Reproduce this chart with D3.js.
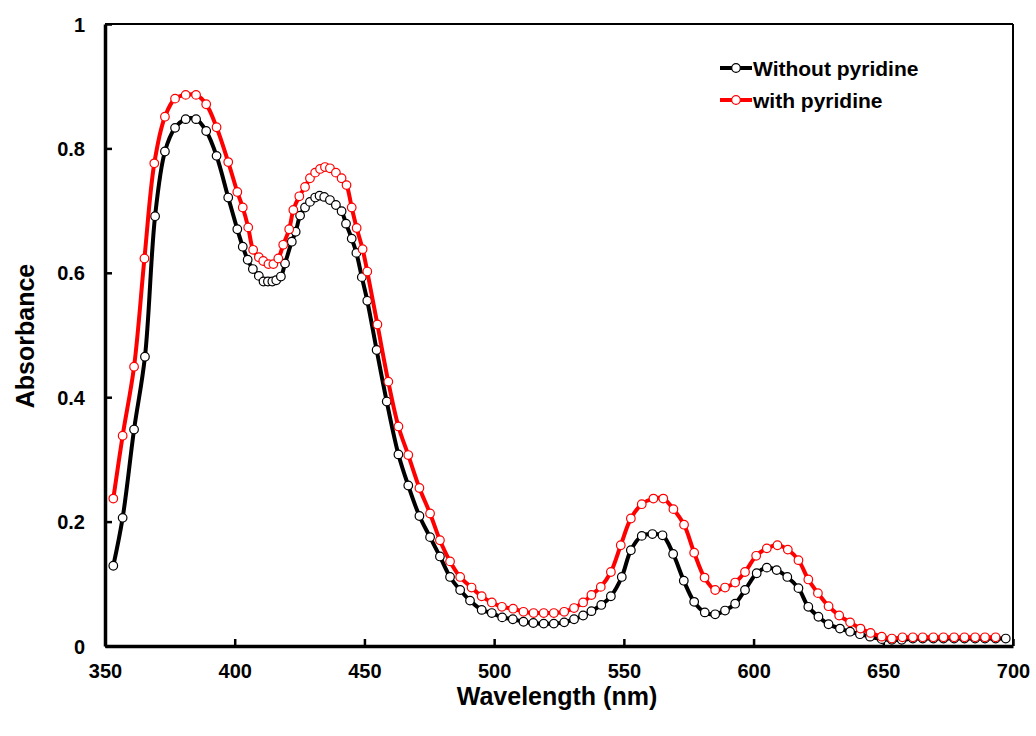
<!DOCTYPE html>
<html>
<head>
<meta charset="utf-8">
<script src="https://cdn.jsdelivr.net/npm/d3@7"></script>
<style>
    body { margin: 0; background: #fff; }
    svg text { font-family: "Liberation Sans", Arial, sans-serif; font-weight: bold; fill: #000; }
</style>
</head>
<body>
<svg id="chart" width="1036" height="736"></svg>
<script>
// wavelength (nm) / absorbance
const nmWithout = [353.2, 356.8, 361.2, 365.4, 369.3, 373.1, 377, 381.1, 385.1, 389, 393, 397.5, 401, 403.1, 405, 407,
    409.3, 411.1, 412.8, 414.5, 416, 417.8, 419.4, 422, 423.5, 425.2, 427.1, 429, 431, 432.7, 434.5, 436.7, 439, 441.2,
    442.9, 445.1, 446.9, 449, 451.1, 454.7, 458.6, 463.1, 466.9, 471.2, 475.3, 479.1, 483, 486.9, 490.7, 495.2, 499.1,
    503.1, 507.2, 511.3, 515.1, 519.1, 523, 527, 530.8, 534.3, 537.5, 541.3, 545, 549.2, 552.7, 556.9, 561, 564.9, 569,
    573.1, 577.1, 581.2, 585.2, 589, 592.9, 596.7, 601.2, 605.1, 608.9, 613, 617.3, 621.1, 625, 628.9, 633.3, 637.2, 641,
    644.9, 649.4, 653.3, 657.1, 661.4, 665.2, 669.3, 673.2, 677.3, 681.3, 685.4, 689.2, 693.3, 697.2];
const absWithout = [0.129, 0.206, 0.348, 0.465, 0.691, 0.795, 0.833, 0.847, 0.847, 0.828, 0.788, 0.721, 0.670, 0.642, 0.621, 0.606,
    0.595, 0.586, 0.586, 0.586, 0.588, 0.594, 0.615, 0.650, 0.666, 0.692, 0.705, 0.714, 0.721, 0.724, 0.722, 0.717, 0.709, 0.699,
    0.679, 0.655, 0.632, 0.593, 0.555, 0.476, 0.393, 0.308, 0.258, 0.209, 0.175, 0.144, 0.111, 0.090, 0.073, 0.058, 0.053,
    0.046, 0.043, 0.039, 0.037, 0.036, 0.036, 0.038, 0.043, 0.049, 0.056, 0.066, 0.080, 0.111, 0.154, 0.177, 0.180, 0.178, 0.148,
    0.105, 0.071, 0.054, 0.051, 0.057, 0.068, 0.090, 0.117, 0.126, 0.122, 0.111, 0.093, 0.063, 0.047, 0.035, 0.028, 0.023, 0.019,
    0.015, 0.011, 0.010, 0.010, 0.012, 0.012, 0.012, 0.012, 0.012, 0.012, 0.012, 0.012, 0.012, 0.012];

const nmWith = [353.2, 356.8, 361.2, 365.2, 369, 373.1, 377, 381.1, 385.1, 389, 393, 397.5, 401, 403.1, 405.2, 407.1,
    409.3, 411, 413, 414.9, 416.8, 418.7, 421, 422.6, 424.9, 427.1, 429, 431, 432.9, 434.8, 436.7, 439, 441.2, 443.1,
    445.1, 447, 449.3, 451.1, 455, 459.2, 463.1, 466.9, 471.2, 475.3, 479.1, 483, 486.9, 491.3, 495.2, 499.1, 503, 507.3,
    511.3, 515.2, 519.1, 523, 527, 530.8, 534.3, 537.5, 541.1, 545, 548.8, 552.7, 556.9, 561.4, 565.2, 569.1, 573.2, 577.1,
    581.1, 585.2, 589, 592.9, 596.7, 601, 605.1, 609.2, 613.2, 617.3, 621.1, 624.8, 628.9, 633, 637.2, 641.2, 645.1, 649.4,
    653.3, 657.4, 661.4, 665.2, 669.3, 673.2, 677.3, 681.3, 685.4, 689.2, 693.3, 697.2];
const absWith = [0.237, 0.338, 0.449, 0.623, 0.776, 0.851, 0.880, 0.886, 0.886, 0.871, 0.834, 0.778, 0.730, 0.705, 0.673, 0.637,
    0.625, 0.619, 0.614, 0.614, 0.623, 0.645, 0.670, 0.701, 0.723, 0.738, 0.752, 0.761, 0.767, 0.770, 0.768, 0.761, 0.752, 0.741,
    0.705, 0.672, 0.638, 0.602, 0.517, 0.425, 0.353, 0.307, 0.254, 0.213, 0.170, 0.136, 0.111, 0.094, 0.080, 0.070, 0.063, 0.060,
    0.055, 0.053, 0.053, 0.053, 0.055, 0.061, 0.070, 0.082, 0.095, 0.119, 0.162, 0.205, 0.228, 0.237, 0.237, 0.220, 0.195, 0.150,
    0.110, 0.090, 0.094, 0.102, 0.119, 0.145, 0.157, 0.162, 0.155, 0.138, 0.107, 0.085, 0.064, 0.049, 0.038, 0.028, 0.021, 0.015,
    0.012, 0.014, 0.014, 0.014, 0.014, 0.014, 0.014, 0.014, 0.014, 0.014, 0.014];

const xTicks = [350, 400, 450, 500, 550, 600, 650, 700];
const yTicks = [0, 0.2, 0.4, 0.6, 0.8, 1];
const seriesNames = ["Without pyridine", "with pyridine"];
const seriesColors = ["#000000", "#ff0000"];

const svg = d3.select("#chart");

let x = d3.scaleLinear().domain([350, 700]).range([105, 1013]);
let y = d3.scaleLinear().domain([0, 1]).range([646, 24]);

// frame: thin top / right
svg.append("line").attr("x1", x(350)).attr("x2", x(700)).attr("y1", y(1)).attr("y2", y(1))
    .attr("stroke", "#000").attr("stroke-width", 2);
svg.append("line").attr("x1", x(700)).attr("x2", x(700)).attr("y1", y(1)).attr("y2", y(0))
    .attr("stroke", "#000").attr("stroke-width", 2);

// axes, ticks pointing inward
let xAxis = svg.append("g")
    .attr("transform", "translate(0," + y(0) + ")")
    .call(d3.axisBottom(x).tickValues(xTicks).tickSizeInner(-7).tickSizeOuter(0).tickFormat(d3.format("d")));
let yAxis = svg.append("g")
    .attr("transform", "translate(" + x(350) + ",0)")
    .call(d3.axisLeft(y).tickValues(yTicks).tickSizeInner(-7).tickSizeOuter(0).tickFormat(d => d));

[xAxis, yAxis].forEach(a => {
    a.select(".domain").attr("stroke", "#000").attr("stroke-width", 3.5);
    a.selectAll(".tick line").attr("stroke", "#000").attr("stroke-width", 2.5);
    a.selectAll(".tick text").style("font-size", "20px");
});
xAxis.selectAll(".tick text").attr("y", 0).attr("dy", "32px");
yAxis.selectAll(".tick text").attr("x", -20).attr("dy", "0.35em");

// axis titles
svg.append("text")
    .attr("x", 557).attr("y", 705)
    .attr("text-anchor", "middle")
    .style("font-size", "25px")
    .text("Wavelength (nm)");
svg.append("text")
    .attr("transform", "translate(34,336) rotate(-90)")
    .attr("text-anchor", "middle")
    .style("font-size", "25px")
    .text("Absorbance");

// series
let line = d3.line()
    .x(d => x(d[0]))
    .y(d => y(d[1]))
    .curve(d3.curveCatmullRom.alpha(0.5));

let series = [
    d3.zip(nmWithout, absWithout),
    d3.zip(nmWith, absWith)
];

series.forEach((pts, i) => {
    let g = svg.append("g");
    g.append("path")
        .datum(pts)
        .attr("d", line)
        .attr("fill", "none")
        .attr("stroke", seriesColors[i])
        .attr("stroke-width", 4)
        .attr("stroke-linejoin", "round");
    g.selectAll("circle")
        .data(pts)
        .enter()
        .append("circle")
        .attr("cx", d => x(d[0]))
        .attr("cy", d => y(d[1]))
        .attr("r", 4.3)
        .attr("fill", "#fff")
        .attr("stroke", seriesColors[i])
        .attr("stroke-width", 1.2);
});

// legend
let legend = svg.append("g").attr("transform", "translate(720,68)");
seriesNames.forEach((name, i) => {
    let row = legend.append("g").attr("transform", "translate(0," + (i * 32) + ")");
    row.append("line").attr("x1", 0).attr("x2", 32).attr("y1", 0).attr("y2", 0)
        .attr("stroke", seriesColors[i]).attr("stroke-width", 4);
    row.append("circle").attr("cx", 16).attr("cy", 0).attr("r", 4.3)
        .attr("fill", "#fff").attr("stroke", seriesColors[i]).attr("stroke-width", 1.2);
    row.append("text").attr("x", 33).attr("y", 7.5)
        .style("font-size", "21px")
        .text(name);
});
</script>
</body>
</html>
